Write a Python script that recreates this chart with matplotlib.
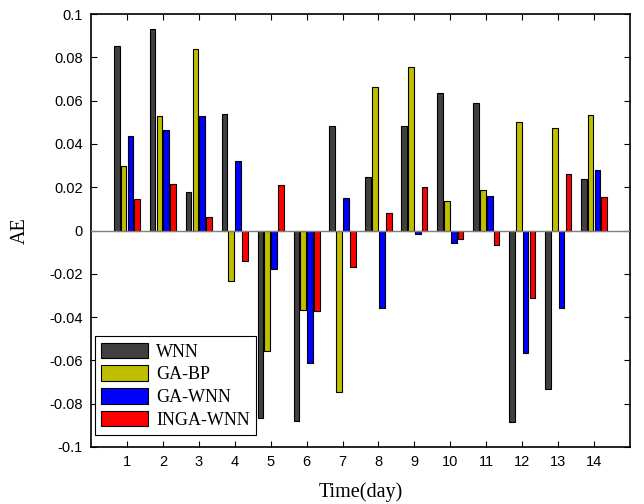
import matplotlib
matplotlib.use("Agg")
import matplotlib.pyplot as plt
import numpy as np

days = list(range(1, 15))
series_names = ["WNN", "GA-BP", "GA-WNN", "INGA-WNN"]
wnn = [0.085, 0.093, 0.0177, 0.0538, -0.0864, -0.0879, 0.0484, 0.0247, 0.0484, 0.0633, 0.0591, -0.0885, -0.0734, 0.0237]
ga_bp = [0.030, 0.0527, 0.0839, -0.0232, -0.0556, -0.0366, -0.0745, 0.0662, 0.0755, 0.0134, 0.0187, 0.0503, 0.0473, 0.0533]
ga_wnn = [0.0436, 0.0462, 0.0528, 0.0323, -0.0178, -0.061, 0.015, -0.0357, -0.0017, -0.006, 0.016, -0.0568, -0.0357, 0.0279]
inga_wnn = [0.0145, 0.0214, 0.0063, -0.0141, 0.021, -0.0372, -0.0169, 0.008, 0.0203, -0.004, -0.0068, -0.0314, 0.0263, 0.0156]
colors = ["#404040", "#bfbf00", "#0000ff", "#ff0000"]
yticks = [-0.1, -0.08, -0.06, -0.04, -0.02, 0, 0.02, 0.04, 0.06, 0.08, 0.1]
ytick_labels = ["-0.1", "-0.08", "-0.06", "-0.04", "-0.02", "0", "0.02", "0.04", "0.06", "0.08", "0.1"]

fig = plt.figure(figsize=(6.44, 5.04), dpi=100)
ax = fig.add_axes([91/644, 57/504, 539/644, 433/504])

x = np.array(days)
offsets = [-0.285, -0.095, 0.095, 0.285]
width = 0.158
for vals, off, col, name in zip([wnn, ga_bp, ga_wnn, inga_wnn], offsets, colors, series_names):
    ax.bar(x + off, vals, width=width, color=col, edgecolor="black", linewidth=0.8, label=name, zorder=2)

ax.axhline(0, color="#808080", linewidth=1.0, zorder=3)
ax.set_xlim(0, 15)
ax.set_ylim(-0.1, 0.1)
ax.set_xticks(days)
ax.set_xticklabels([str(d) for d in days], family="Liberation Sans", fontsize=10.5)
ax.set_yticks(yticks)
ax.set_yticklabels(ytick_labels, family="Liberation Sans", fontsize=10.5)
ax.tick_params(direction="in", length=4, width=0.8, top=True, right=True, pad=6)
for s in ax.spines.values():
    s.set_linewidth(1.2)

ax.set_xlabel("Time(day)", family="Liberation Serif", fontsize=14.5, labelpad=9)
ax.set_ylabel("AE", family="Liberation Serif", fontsize=14.5, labelpad=14)

leg = ax.legend(loc="lower left", bbox_to_anchor=(0.0074, 0.0277), borderaxespad=0,
                prop={"family": "Liberation Serif", "size": 13}, fancybox=False,
                edgecolor="black", framealpha=1, handlelength=2.6, handleheight=0.95,
                labelspacing=0.26, handletextpad=0.45, borderpad=0.35)
leg.get_frame().set_linewidth(0.8)

fig.savefig("out.png", dpi=100)
